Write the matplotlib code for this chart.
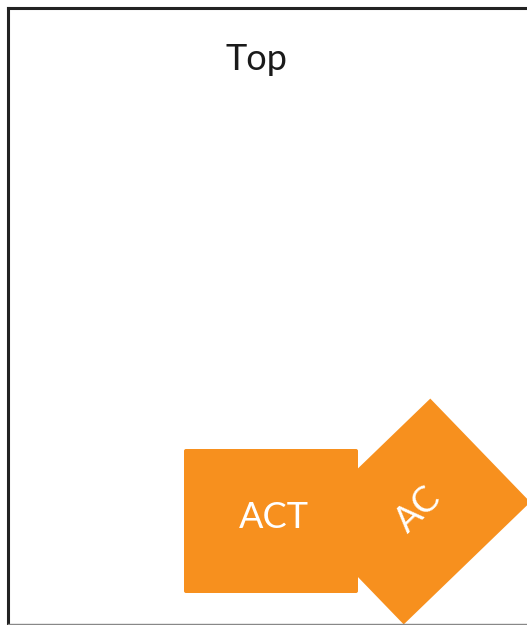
import matplotlib
matplotlib.use("Agg")
import matplotlib.pyplot as plt
from matplotlib.patches import Rectangle, FancyBboxPatch

# data
labels = ["ACT", "AC"]
angles = [0, 44]
title = "Top"

# layout (pixel-like units, y measured upward)
W, H = 527, 625
centers = [(271, 625 - 521), (417, 625 - 511.5)]
sizes = [(174, 144), (176, 144)]
text_pos = [(274, 625 - 528), (418, 625 - 510)]
orange = "#F7901E"

fig = plt.figure(figsize=(W / 100, H / 100), dpi=100)
ax = fig.add_axes([0, 0, 1, 1])
ax.set_xlim(0, W)
ax.set_ylim(0, H)
ax.axis("off")

# frame
ax.plot([8, 8], [0, H - 8], color="#222222", lw=2.2, solid_capstyle="projecting")
ax.plot([8, W], [H - 8, H - 8], color="#222222", lw=2.2, solid_capstyle="projecting")
ax.plot([8, W], [1.5, 1.5], color="#888888", lw=1.0)

font = "Lato"
fs = 26
for lab, ang, (cx, cy), (w, h), (tx, ty) in zip(labels, angles, centers, sizes, text_pos):
    if ang == 0:
        p = FancyBboxPatch((cx - w / 2, cy - h / 2), w, h,
                           boxstyle="round,pad=0,rounding_size=2",
                           facecolor=orange, edgecolor="none")
        ax.add_patch(p)
        ax.text(tx, ty, lab, color="white", fontsize=fs, family=font,
                ha="center", va="baseline")
    else:
        p = Rectangle((cx - w / 2, cy - h / 2), w, h, angle=ang,
                      rotation_point="center", facecolor=orange, edgecolor="none")
        ax.add_patch(p)
        ax.text(tx, ty, lab, color="white", fontsize=fs, family=font,
                ha="center", va="center", rotation=ang, rotation_mode="anchor")

ax.text(256, H - 70, title, color="#1a1a1a", fontsize=fs, family=font,
        ha="center", va="baseline")

fig.savefig("out.png", dpi=100)
